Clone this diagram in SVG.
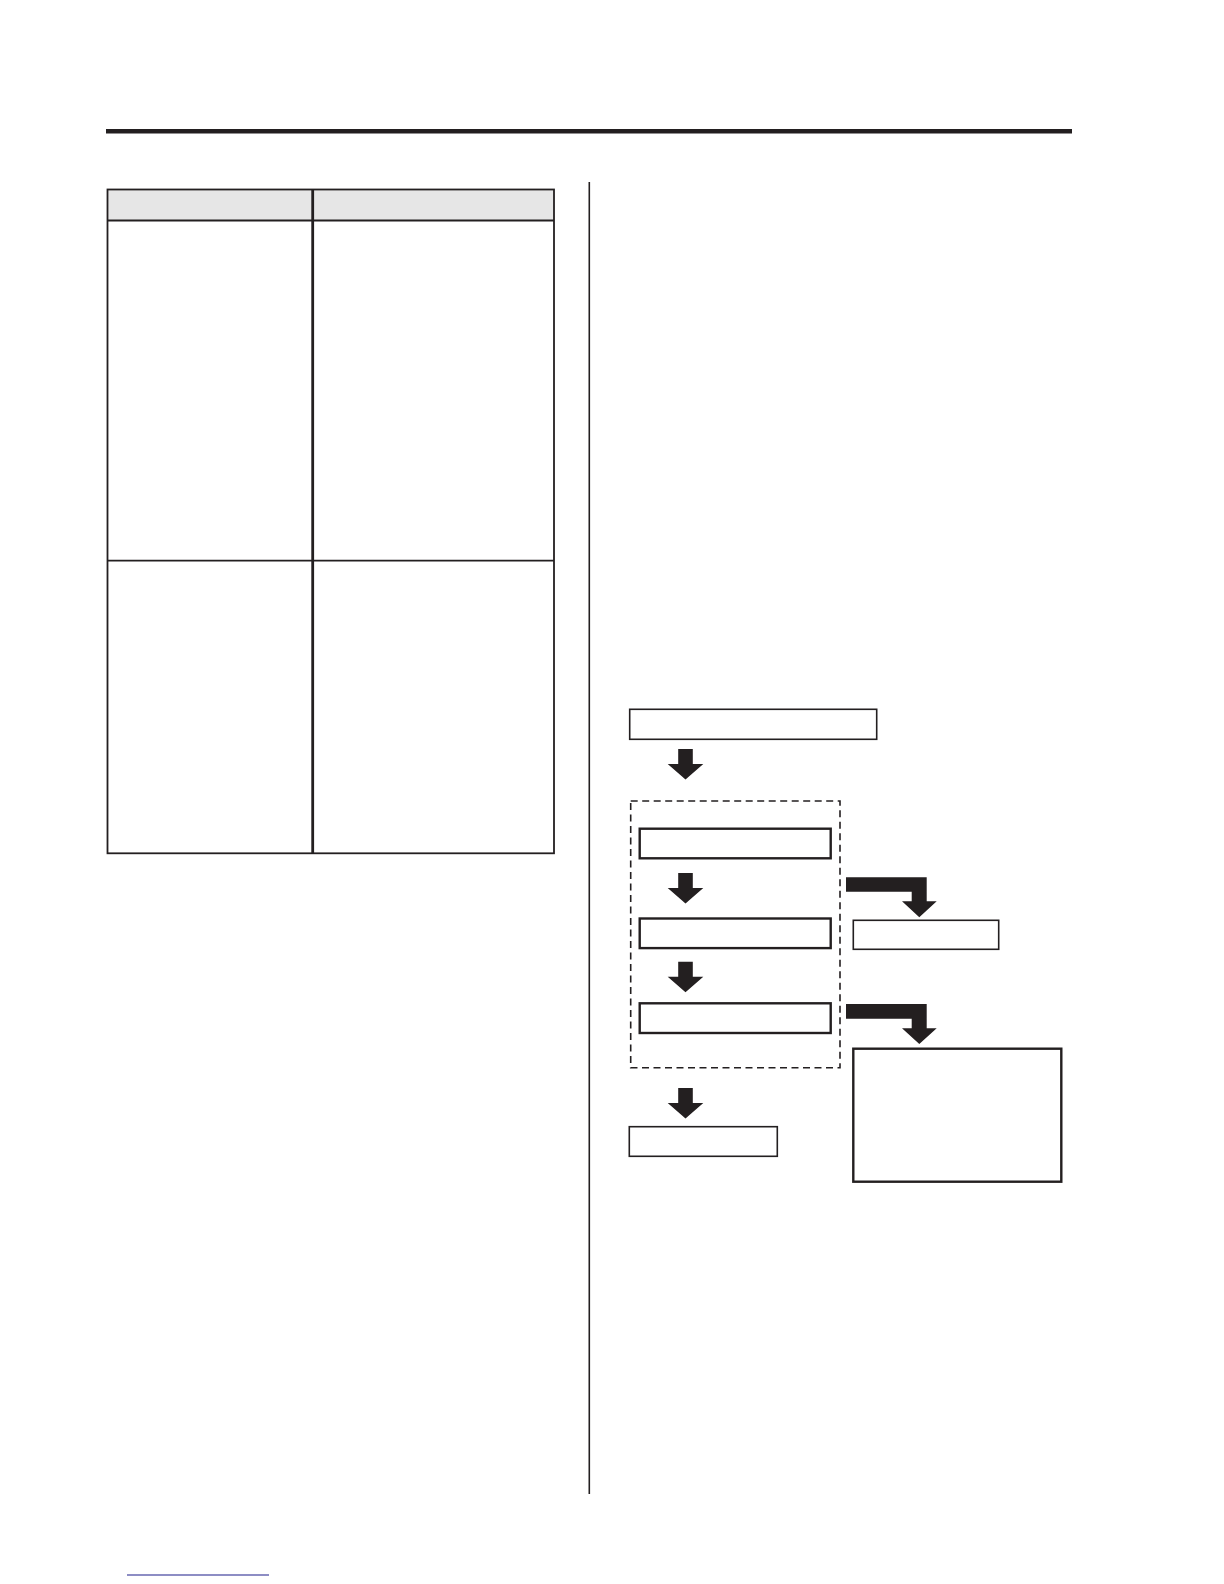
<svg xmlns="http://www.w3.org/2000/svg" width="1224" height="1584" viewBox="0 0 1224 1584">
<style>
.ln{stroke:#231f20;fill:none}
.box{fill:#fff;stroke:#231f20;stroke-width:1.6}
.boxb{fill:#fff;stroke:#231f20;stroke-width:2.4}
.arr{fill:#231f20;stroke:none}
.dash{fill:none;stroke:#231f20;stroke-width:1.6;stroke-dasharray:7 4.5}
</style>
<defs>
<path id="downArrow" d="M-7.3 0H7.3V15H17.8L0 30.5L-17.8 15H-7.3Z"/>
</defs>
<rect width="1224" height="1584" fill="#fff"/>
<g id="page">
<rect x="106" y="129" width="966" height="4.5" fill="#231f20"/>
<line class="ln" x1="589.3" y1="182" x2="589.3" y2="1494" stroke-width="1.6"/>
<line x1="127" y1="1575" x2="269" y2="1575" stroke="#1c1c8a" stroke-width="1.2"/>
</g>
<g id="table">
<rect x="107.5" y="189.5" width="446.5" height="31" fill="#e6e6e6"/>
<rect class="ln" x="107.5" y="189.5" width="446.5" height="663.8" stroke-width="1.8"/>
<line class="ln" x1="107.5" y1="220.5" x2="554" y2="220.5" stroke-width="1.8"/>
<line class="ln" x1="107.5" y1="560.7" x2="554" y2="560.7" stroke-width="1.8"/>
<line class="ln" x1="312.7" y1="189.5" x2="312.7" y2="853.3" stroke-width="2.8"/>
</g>
<g id="nodes">
<g id="n1"><rect class="box" x="629.7" y="709.3" width="247" height="30"/></g>
<g id="group"><rect class="dash" x="630.7" y="801" width="209.3" height="266.7"/></g>
<g id="n2"><rect class="boxb" x="639.7" y="828.7" width="191" height="29.6"/></g>
<g id="n3"><rect class="boxb" x="639.7" y="918.5" width="191" height="29.6"/></g>
<g id="n4"><rect class="boxb" x="639.7" y="1003.3" width="191" height="29.7"/></g>
<g id="n5"><rect class="box" x="629.3" y="1126.7" width="148" height="29.6"/></g>
<g id="n6"><rect class="box" x="853.3" y="920.3" width="145.4" height="29"/></g>
<g id="n7"><rect class="boxb" x="853.3" y="1048.7" width="208" height="133"/></g>
</g>
<g id="connectors">
<use href="#downArrow" class="arr" x="685.5" y="749"/>
<use href="#downArrow" class="arr" x="685.5" y="873"/>
<use href="#downArrow" class="arr" x="685.5" y="961.7"/>
<use href="#downArrow" class="arr" x="685.5" y="1088"/>
<path class="arr" d="M846 877.3H926.7V901.3H936.7L919.3 917.3L902 901.3H911.7V891.7H846Z"/>
<path class="arr" d="M846 1004H926.7V1028.3H936.7L919.3 1044L902 1028.3H911.7V1018.7H846Z"/>
</g>
</svg>
